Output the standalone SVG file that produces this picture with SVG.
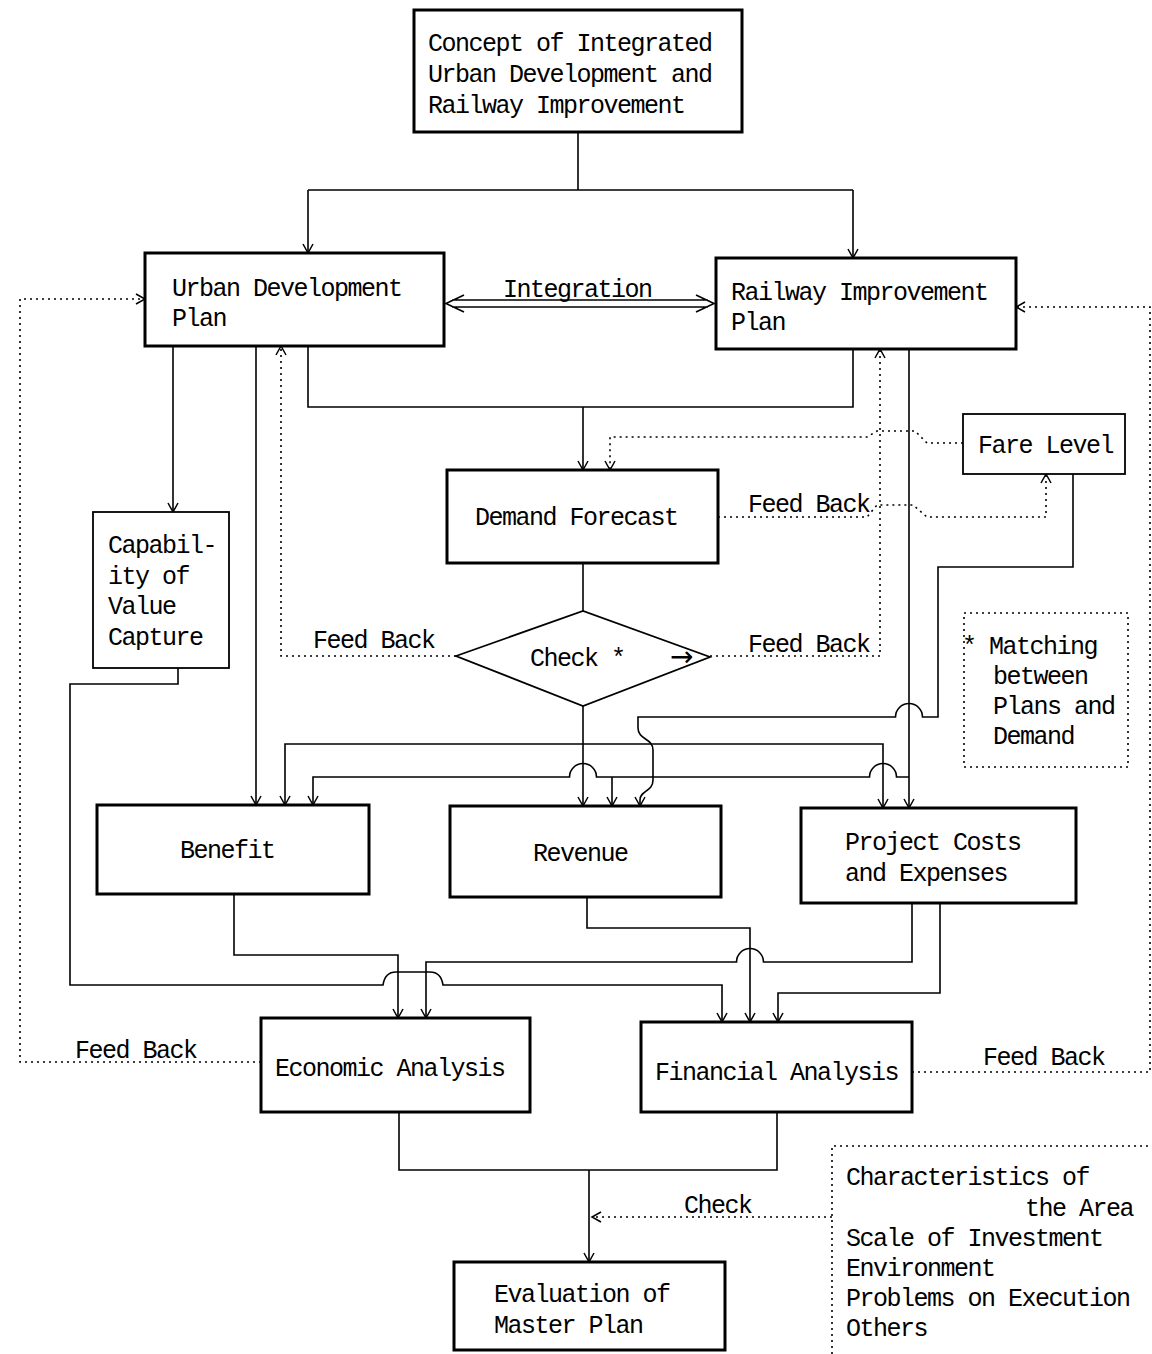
<svg xmlns="http://www.w3.org/2000/svg" width="1152" height="1354" viewBox="0 0 1152 1354">
<style>
.box{fill:#fff;stroke:#000;stroke-width:3}
.tbox{fill:#fff;stroke:#000;stroke-width:1.8}
.dbox{fill:none;stroke:#000;stroke-width:1.6;stroke-dasharray:2 4}
.ln{fill:none;stroke:#000;stroke-width:1.6}
.dt{fill:none;stroke:#000;stroke-width:1.6;stroke-dasharray:2 4}
text{font-family:"Liberation Mono","DejaVu Sans Mono",monospace;font-size:25px;letter-spacing:-1.5px;fill:#000}
.arr{font-family:"DejaVu Sans",sans-serif;font-size:28px;letter-spacing:0}
</style>
<defs>
<marker id="ah" markerWidth="12" markerHeight="12" refX="10" refY="5" orient="auto" markerUnits="userSpaceOnUse" viewBox="0 0 12 10">
<path d="M1,0 L10,5 L1,10" fill="none" stroke="#000" stroke-width="1.5"/>
</marker>
</defs>
<rect width="1152" height="1354" fill="#fff"/>

<g id="connectors">
<path class="ln" d="M578,132 V190 M308,190 H853"/>
<path class="ln" d="M308,190 V253" marker-end="url(#ah)"/>
<path class="ln" d="M853,190 V258" marker-end="url(#ah)"/>
<path class="ln" d="M452,300 H708 M452,307 H708 M464,295 L446,303.5 L464,312 M696,295 L714,303.5 L696,312"/>
<path class="ln" d="M173,346 V512" marker-end="url(#ah)"/>
<path class="ln" d="M256,346 V805" marker-end="url(#ah)"/>
<path class="ln" d="M308,346 V407 H853 V349"/>
<path class="ln" d="M583,407 V470" marker-end="url(#ah)"/>
<path class="ln" d="M909,349 V808" marker-end="url(#ah)"/>
<path class="ln" d="M583,563 V611"/>
<path class="ln" d="M583,706 V806" marker-end="url(#ah)"/>
<path class="ln" d="M583,744 H285 V805" marker-end="url(#ah)"/>
<path class="ln" d="M583,744 H883 V808" marker-end="url(#ah)"/>
<path class="ln" d="M909,777 H896.5 A13.5,13.5 0 0 0 869.5,777 H596.5 A13.5,13.5 0 0 0 569.5,777 H313 V805" marker-end="url(#ah)"/>
<path class="ln" d="M612,777 V806" marker-end="url(#ah)"/>
<path class="ln" d="M1073,474 V567 H938 V717 H922.5 A13.5,13.5 0 0 0 895.5,717 H638 V728 C638,740 653,738 653,750 V780 C653,792 640,790 640,800 V806" marker-end="url(#ah)"/>
<path class="ln" d="M178,668 V684 H70 V985 H383 Q385,972 396,972 H430 Q441,972 443,985 H722 V1022" marker-end="url(#ah)"/>
<path class="ln" d="M234,894 V955 H398 V1018" marker-end="url(#ah)"/>
<path class="ln" d="M587,897 V928 H750 V1022" marker-end="url(#ah)"/>
<path class="ln" d="M912,903 V962 H763.5 A13.5,13.5 0 0 0 736.5,962 H426 V1018" marker-end="url(#ah)"/>
<path class="ln" d="M940,903 V993 H778 V1022" marker-end="url(#ah)"/>
<path class="ln" d="M399,1112 V1170 H777 V1112"/>
<path class="ln" d="M589,1170 V1262" marker-end="url(#ah)"/>
<path class="dt" d="M832,1217 H592" marker-end="url(#ah)"/>
<path class="dt" d="M261,1062 H20 V299 H145" marker-end="url(#ah)"/>
<path class="dt" d="M912,1072 H1150 V307 H1016" marker-end="url(#ah)"/>
<path class="dt" d="M456,656 H281 V346" marker-end="url(#ah)"/>
<path class="dt" d="M710,656 H880 V349" marker-end="url(#ah)"/>
<path class="dt" d="M718,517 H867 L877,505 H913 L927,517 H1046 V474" marker-end="url(#ah)"/>
<path class="dt" d="M963,443 H927 L915,431 H877 L867,437 H610 V470" marker-end="url(#ah)"/>
<text x="503" y="297">Integration</text>
<text x="313" y="648">Feed Back</text>
<text x="748" y="652">Feed Back</text>
<text x="748" y="512">Feed Back</text>
<text x="75" y="1058">Feed Back</text>
<text x="983" y="1065">Feed Back</text>
<text x="684" y="1213">Check</text>
</g>

<g id="concept">
<rect class="box" x="414" y="10" width="328" height="122"/>
<text x="428" y="51">Concept of Integrated</text>
<text x="428" y="82">Urban Development and</text>
<text x="428" y="113">Railway Improvement</text>
</g>

<g id="urban-plan">
<rect class="box" x="145" y="253" width="299" height="93"/>
<text x="172" y="296">Urban Development</text>
<text x="172" y="326">Plan</text>
</g>

<g id="railway-plan">
<rect class="box" x="716" y="258" width="300" height="91"/>
<text x="731" y="300">Railway Improvement</text>
<text x="731" y="330">Plan</text>
</g>

<g id="demand-forecast">
<rect class="box" x="447" y="470" width="271" height="93"/>
<text x="475" y="525">Demand Forecast</text>
</g>

<g id="fare-level">
<rect class="tbox" x="963" y="414" width="162" height="60"/>
<text x="978" y="453">Fare Level</text>
</g>

<g id="value-capture">
<rect class="tbox" x="93" y="512" width="136" height="156"/>
<text x="108" y="553">Capabil-</text>
<text x="108" y="584">ity of</text>
<text x="108" y="614">Value</text>
<text x="108" y="645">Capture</text>
</g>

<g id="check">
<polygon class="tbox" points="456,656 583,611 710,657 583,706"/>
<text x="530" y="666" xml:space="preserve">Check *</text>
<text class="arr" x="670" y="666">→</text>
</g>

<g id="matching-note">
<rect class="dbox" x="964" y="613" width="164" height="154"/>
<text x="962" y="654" xml:space="preserve">* Matching</text>
<text x="993" y="684">between</text>
<text x="993" y="714">Plans and</text>
<text x="993" y="744">Demand</text>
</g>

<g id="benefit">
<rect class="box" x="97" y="805" width="272" height="89"/>
<text x="180" y="858">Benefit</text>
</g>

<g id="revenue">
<rect class="box" x="450" y="806" width="271" height="91"/>
<text x="533" y="861">Revenue</text>
</g>

<g id="project-costs">
<rect class="box" x="801" y="808" width="275" height="95"/>
<text x="845" y="850">Project Costs</text>
<text x="845" y="881">and Expenses</text>
</g>

<g id="economic-analysis">
<rect class="box" x="261" y="1018" width="269" height="94"/>
<text x="275" y="1076">Economic Analysis</text>
</g>

<g id="financial-analysis">
<rect class="box" x="641" y="1022" width="271" height="90"/>
<text x="655" y="1080">Financial Analysis</text>
</g>

<g id="evaluation">
<rect class="box" x="454" y="1262" width="271" height="88"/>
<text x="494" y="1302">Evaluation of</text>
<text x="494" y="1333">Master Plan</text>
</g>

<g id="criteria-note">
<path class="dt" d="M832,1354 V1146 H1152"/>
<text x="846" y="1185">Characteristics of</text>
<text x="1025" y="1216">the Area</text>
<text x="846" y="1246">Scale of Investment</text>
<text x="846" y="1276">Environment</text>
<text x="846" y="1306">Problems on Execution</text>
<text x="846" y="1336">Others</text>
</g>
</svg>
